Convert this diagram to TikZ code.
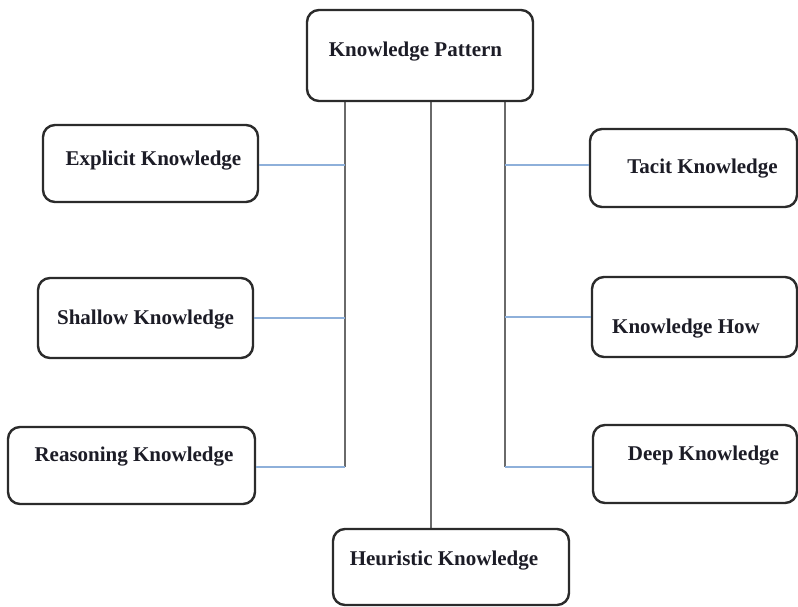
\documentclass[tikz,border=0pt]{standalone}
\usepackage{fontspec}
\setmainfont{Liberation Serif}
\begin{document}
\begin{tikzpicture}[x=1pt,y=-1pt,
  kbox/.style={draw=boxline, line width=2.4pt, rounded corners=12pt, fill=white, inner sep=0pt},
  ktext/.style={font=\fontsize{21}{25}\selectfont\bfseries, text=textdark, inner sep=0pt, anchor=base},
  trunk/.style={draw=trunkgray, line width=1.8pt},
  branch/.style={draw=branchblue, line width=1.5pt}]
  \definecolor{boxline}{HTML}{2B2B2B}
  \definecolor{trunkgray}{HTML}{6A6A6A}
  \definecolor{branchblue}{HTML}{8EB0DA}
  \definecolor{textdark}{HTML}{1C1C26}

  \useasboundingbox (0,0) rectangle (798,607);

  % trunk and branch joints
  \coordinate (lt) at (345,101);
  \coordinate (lb) at (345,467);
  \coordinate (mt) at (431,101);
  \coordinate (rt) at (505,101);
  \coordinate (rb) at (505,467);

  % vertical trunks, drawn below the boxes
  \draw[trunk] (lt) -- (lb);
  \draw[trunk] (rt) -- (rb);
  \draw[trunk] (mt) -- (431,529);

  % boxes
  \node[kbox, minimum width=226pt, minimum height=91pt] (kp)        at (420,55.5) {};
  \node[kbox, minimum width=215pt, minimum height=77pt] (explicit)  at (150.5,163.5) {};
  \node[kbox, minimum width=207pt, minimum height=78pt] (tacit)     at (693.5,168) {};
  \node[kbox, minimum width=215pt, minimum height=80pt] (shallow)   at (145.5,318) {};
  \node[kbox, minimum width=205pt, minimum height=80pt] (how)       at (694.5,317) {};
  \node[kbox, minimum width=247pt, minimum height=77pt] (reasoning) at (131.5,465.5) {};
  \node[kbox, minimum width=204pt, minimum height=78pt] (deep)      at (695,464) {};
  \node[kbox, minimum width=236pt, minimum height=76pt] (heuristic) at (451,567) {};

  % box titles
  \node[ktext] (kp-t)        at (415.5,57)  {Knowledge Pattern};
  \node[ktext] (explicit-t)  at (153.5,165) {Explicit Knowledge};
  \node[ktext] (tacit-t)     at (702.5,174) {Tacit Knowledge};
  \node[ktext] (shallow-t)   at (145.5,324) {Shallow Knowledge};
  \node[ktext] (how-t)       at (686,333)   {Knowledge How};
  \node[ktext] (reasoning-t) at (134,461)   {Reasoning Knowledge};
  \node[ktext] (deep-t)      at (703.5,460) {Deep Knowledge};
  \node[ktext] (heuristic-t) at (444,565)   {Heuristic Knowledge};

  % horizontal branches
  \draw[branch] (explicit.east |- 0,165) -- (345,165);
  \draw[branch] (shallow.east) -- (shallow.east -| lb);
  \draw[branch] (reasoning.east |- lb) -- (lb);
  \draw[branch] (505,165) -- (tacit.west |- 0,165);
  \draw[branch] (how.west -| rb) -- (how.west);
  \draw[branch] (rb) -- (deep.west |- rb);
\end{tikzpicture}
\end{document}
